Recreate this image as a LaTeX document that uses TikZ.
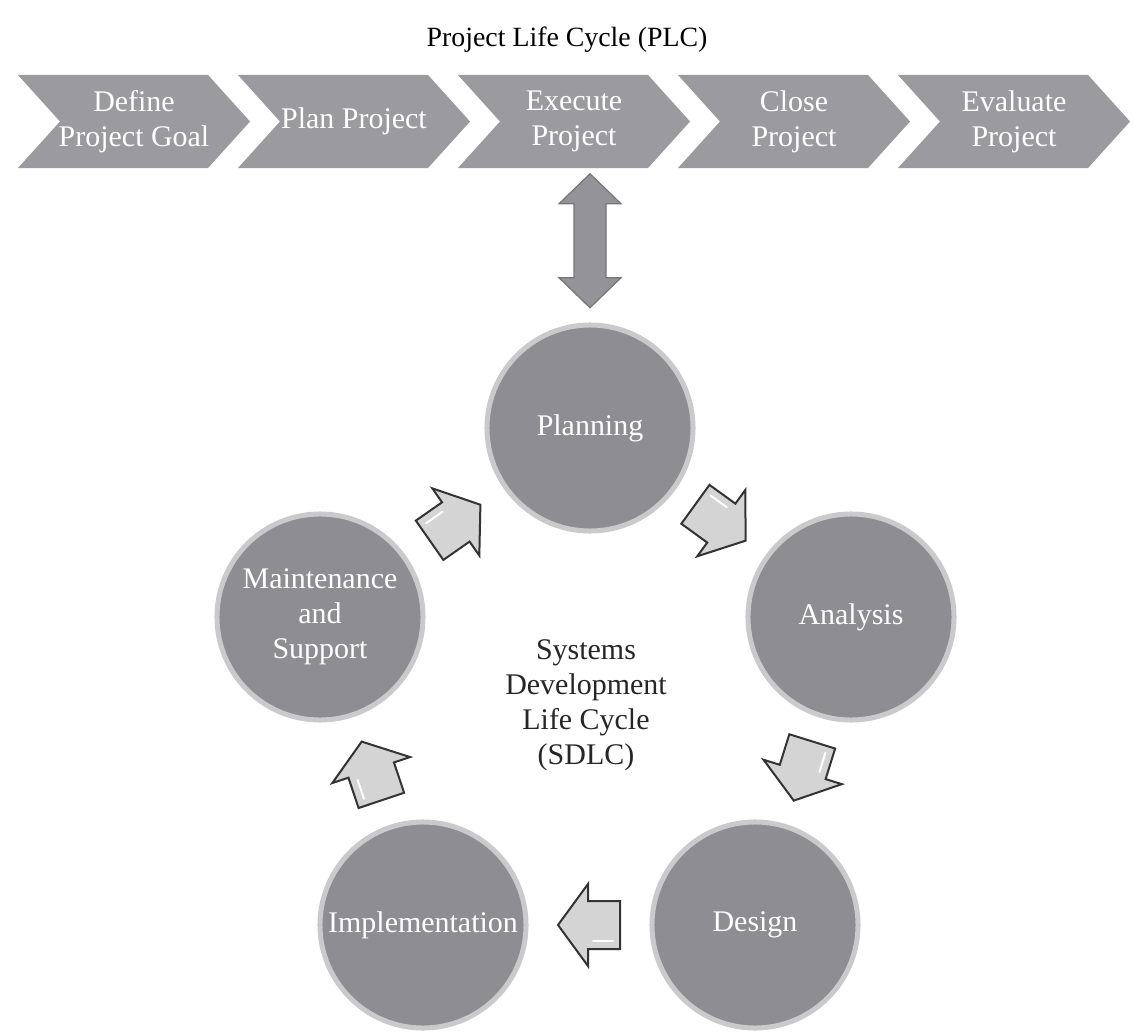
\documentclass[tikz,border=0pt]{standalone}
\usepackage{fontspec}
\setmainfont{Liberation Serif}
\usepackage{tikz}
\usetikzlibrary{calc}

\definecolor{chevgray}{RGB}{155,155,159}
\definecolor{circgray}{RGB}{142,142,146}
\definecolor{rimgray}{RGB}{202,202,204}
\definecolor{arrowgray}{RGB}{212,212,212}
\definecolor{linkgray}{RGB}{148,148,152}
\newcommand{\cycfont}{\fontsize{21.3}{25}\selectfont}

\begin{document}
\begin{tikzpicture}[x=0.025cm, y=-0.025cm,
		chevron_style/.style={minimum width=5.8cm, minimum height=2.325cm, inner sep=0pt,
			text=white, align=center, font=\cycfont,
			path picture={\fill[chevgray] (path picture bounding box.north west)
				-- ($(path picture bounding box.north east)+(-42,0)$)
				-- (path picture bounding box.east)
				-- ($(path picture bounding box.south east)+(-42,0)$)
				-- (path picture bounding box.south west)
				-- ($(path picture bounding box.west)+(42,0)$) -- cycle;}},
		phase_style/.style={circle, fill=circgray, draw=rimgray, line width=0.125cm,
			minimum size=5.15cm, inner sep=0pt, text=white, align=center, font=\cycfont},
		arrow_style/.style={fill=arrowgray, draw=black!80, line width=0.05cm},
		step_arrow/.pic={
			\filldraw[arrow_style] (-31,-24) -- (1,-24) -- (1,-41) -- (31,0)
				-- (1,41) -- (1,24) -- (-31,24) -- cycle;
			\draw[white, line width=0.05cm, line cap=round] (-24,-16) -- (-4,-16);},
		link_arrow/.pic={
			\filldraw[fill=linkgray, draw=linkgray!80!black, line width=0.03cm]
				(-67,0) -- (-37,-31) -- (-37,-16) -- (37,-16) -- (37,-31) -- (67,0)
				-- (37,31) -- (37,16) -- (-37,16) -- (-37,31) -- cycle;}]

		\useasboundingbox (0,0) rectangle (1134,1033);

		% project life cycle
		\node[font=\fontsize{19.8}{24}\selectfont] (plc) at (567,40) {Project Life Cycle (PLC)};
		\node[chevron_style] (c1) at (134,121.5)  {Define\\Project Goal};
		\node[chevron_style] (c2) at (354,121.5)  {Plan Project};
		\node[chevron_style] (c3) at (574,121.5)  {Execute\\Project};
		\node[chevron_style] (c4) at (794,121.5)  {Close\\Project};
		\node[chevron_style] (c5) at (1014,121.5) {Evaluate\\Project};

		% systems development life cycle
		\node[phase_style] (pln) at (590,428) {Planning};
		\node[phase_style] (ana) at (851,617) {Analysis};
		\node[phase_style] (des) at (755,925) {Design};
		\node[phase_style] (imp) at (423,925) {Implementation};
		\node[phase_style] (mnt) at (320,617) {Maintenance\\and\\Support};
		\node[font=\cycfont, align=center, text=black!85] (sdlc) at (586,705)
			{Systems\\Development\\Life Cycle\\(SDLC)};

		\path (pln.north |- c3.south) -- pic[pos=0.47, sloped]{link_arrow} (pln.north);

		\path (mnt) -- pic[pos=0.5, sloped, allow upside down]{step_arrow} (pln);
		\path (pln) -- pic[pos=0.5, sloped, allow upside down]{step_arrow} (ana);
		\path (ana) -- pic[pos=0.5, sloped, allow upside down]{step_arrow} (des);
		\path (des) -- pic[pos=0.5, sloped, allow upside down]{step_arrow} (imp);
		\path (imp) -- pic[pos=0.5, sloped, allow upside down]{step_arrow} (mnt);
\end{tikzpicture}
\end{document}
